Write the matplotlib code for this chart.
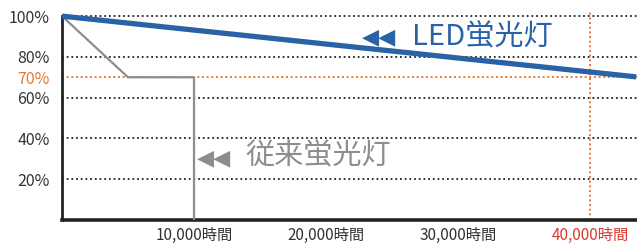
import matplotlib
matplotlib.use("Agg")
import matplotlib.pyplot as plt

plt.rcParams['font.family'] = ['Noto Sans CJK JP', 'DejaVu Sans']

# ---------- data
led_hours = [0, 43500]
led_pct = [100, 70.2]

old_hours = [0, 5000, 10000, 10000]
old_pct = [100, 70, 70, 0]

grid_pct = [100, 80, 60, 40, 20]
life_pct = 70
life_hours = 40000

ytick_vals = [100, 80, 70, 60, 40, 20]
ytick_text = ['100%', '80%', '70%', '60%', '40%', '20%']
xtick_vals = [10000, 20000, 30000, 40000]
xtick_text = ['10,000時間', '20,000時間', '30,000時間', '40,000時間']

BLUE = '#2a62a6'
GREY = '#8d8d8d'
ORANGE = '#e8782c'
RED = '#d93a2e'

fig = plt.figure(figsize=(6.37, 2.43), dpi=100)
ax = fig.add_axes([62/637, 23/243, 1 - 62/637, 210/243])
ax.set_xlim(0, 43560)
ax.set_ylim(0, 103)

# grid lines
for g in grid_pct:
    ax.axhline(g, color='#222222', lw=1.3, ls=(0, (1, 1.6)), zorder=1)
ax.axhline(life_pct, color=ORANGE, lw=1.4, ls=(0, (1, 1.4)), zorder=1)
ax.axvline(life_hours, color=ORANGE, lw=1.4, ls=(0, (1, 1.4)), zorder=1)

# curves
ax.plot(old_hours, old_pct, color=GREY, lw=1.6, zorder=3)
ax.plot(led_hours, led_pct, color=BLUE, lw=3.8, zorder=4, solid_capstyle='butt')

# labels in the plot
ax.text(22700, 89.5, '◀◀', color=BLUE, fontsize=16, family='DejaVu Sans',
        va='center', ha='left')
ax.text(26500, 89.5, 'LED蛍光灯', color=BLUE, fontsize=21, va='center', ha='left')
ax.text(10250, 30.5, '◀◀', color=GREY, fontsize=16, family='DejaVu Sans',
        va='center', ha='left')
ax.text(13900, 31, '従来蛍光灯', color=GREY, fontsize=21, va='center', ha='left')

# axes
for s in ['top', 'right']:
    ax.spines[s].set_visible(False)
ax.spines['left'].set_bounds(0, 100)
ax.spines['left'].set_linewidth(2)
ax.spines['bottom'].set_linewidth(2.6)
ax.spines['left'].set_color('#222222')
ax.spines['bottom'].set_color('#222222')

ax.set_yticks(ytick_vals)
ax.set_yticklabels(ytick_text, fontsize=11.5, color='#333333')
ax.get_yticklabels()[2].set_color(ORANGE)
ax.set_xticks(xtick_vals)
ax.set_xticklabels(xtick_text, fontsize=11, color='#333333')
ax.get_xticklabels()[3].set_color(RED)
ax.tick_params(axis='y', length=0, pad=9)
ax.tick_params(axis='x', length=0, pad=5)

fig.savefig('out.png', dpi=100)
